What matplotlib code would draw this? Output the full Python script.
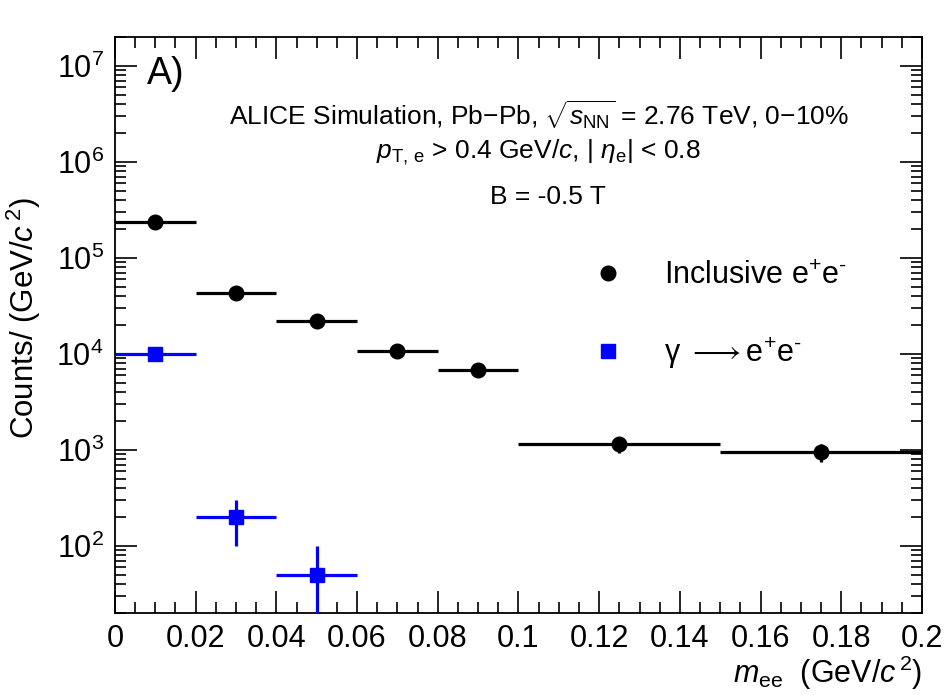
"""
plot.py
Dielectron invariant mass spectrum (inclusive vs. photon conversions), ROOT style.
"""

import math
import matplotlib
matplotlib.use("Agg")
import matplotlib.pyplot as plt
from matplotlib.ticker import MultipleLocator, LogLocator, FuncFormatter, NullFormatter

plt.rcParams["font.family"] = ["Liberation Sans", "DejaVu Sans"]
plt.rcParams["mathtext.fontset"] = "custom"
plt.rcParams["mathtext.rm"] = "Liberation Sans"
plt.rcParams["mathtext.it"] = "Liberation Sans:italic"
plt.rcParams["mathtext.bf"] = "Liberation Sans:bold"

# inclusive e+e-
incl_x = [0.01, 0.03, 0.05, 0.07, 0.09, 0.125, 0.175]
incl_xerr = [0.01, 0.01, 0.01, 0.01, 0.01, 0.025, 0.025]
incl_y = [2.37e5, 4.35e4, 2.22e4, 1.06e4, 6.8e3, 1.15e3, 955]
incl_yerr = [1.0e3, 4.0e2, 3.0e2, 2.0e2, 1.5e2, 220, 200]

# gamma -> e+e-
conv_x = [0.01, 0.03, 0.05]
conv_xerr = [0.01, 0.01, 0.01]
conv_y = [1.0e4, 200, 50]
conv_yerr = [100, 100, 49.9]

x_ticks = [0, 0.02, 0.04, 0.06, 0.08, 0.1, 0.12, 0.14, 0.16, 0.18, 0.2]


def main():
    fig = plt.figure(figsize=(9.5, 6.95), dpi=100)
    ax = fig.add_axes([0.121, 0.118, 0.8495, 0.829])

    ax.errorbar(incl_x, incl_y, xerr=incl_xerr, yerr=incl_yerr, fmt="o",
                color="black", ms=10.5, elinewidth=2.3, capsize=0, zorder=3)
    ax.errorbar(conv_x, conv_y, xerr=conv_xerr, yerr=conv_yerr, fmt="s",
                color="#0000ff", ms=10, elinewidth=2.3, capsize=0, zorder=3)

    ax.set_yscale("log")
    ax.set_xlim(0, 0.2)
    ax.set_ylim(20, 2e7)

    ax.set_xticks(x_ticks)
    ax.xaxis.set_major_formatter(FuncFormatter(lambda v, p: "%g" % round(v, 3)))
    ax.xaxis.set_minor_locator(MultipleLocator(0.005))
    ax.yaxis.set_major_locator(LogLocator(base=10, numticks=20))
    ax.yaxis.set_minor_locator(LogLocator(base=10, subs=range(2, 10), numticks=20))
    ax.yaxis.set_minor_formatter(NullFormatter())
    ax.yaxis.set_major_formatter(
        FuncFormatter(lambda v, p: r"$10^{\mathregular{%d}}$" % round(math.log10(v))))

    ax.tick_params(which="both", direction="in", top=True, right=True,
                   labelsize=22, width=1.2, color="black")
    ax.tick_params(which="major", length=16, pad=8)
    ax.tick_params(which="minor", length=8)
    for s in ax.spines.values():
        s.set_linewidth(1.3)

    ax.set_xlabel(r"$m_{\rm ee}$  (GeV/$c^{\,2}$)", fontsize=22, loc="right", labelpad=0)
    ax.set_ylabel(r"Counts/ (GeV/$c^{\,2}$)", fontsize=22.5, loc="top")
    ax.yaxis.set_label_coords(-0.113, 0.722)
    ax.yaxis.label.set_va("center")

    ax.text(0.04, 0.935, "A)", transform=ax.transAxes, fontsize=27, va="center")
    ax.text(0.525, 0.863, r"ALICE Simulation, Pb$-$Pb, $\sqrt{s_{\rm NN}}$ = 2.76 TeV, 0$-$10%",
            transform=ax.transAxes, fontsize=19, ha="center", va="center")
    ax.text(0.525, 0.800, r"$p_{\rm T,\,e}$ > 0.4 GeV/$c$, | $\eta_{\rm e}$| < 0.8",
            transform=ax.transAxes, fontsize=19, ha="center", va="center")
    ax.text(0.536, 0.722, "B = -0.5 T", transform=ax.transAxes, fontsize=19,
            ha="center", va="center")

    h1, = ax.plot([], [], "o", color="black", ms=10.5)
    h2, = ax.plot([], [], "s", color="#0000ff", ms=10)
    ax.legend([h1, h2], [r"Inclusive e$^{+}$e$^{\text{-}}$",
                         r"γ $\longrightarrow$e$^{+}$e$^{\text{-}}$"],
              loc="upper left", bbox_to_anchor=(0.5725, 0.611), frameon=False,
              fontsize=22, handlelength=2.0, handletextpad=0.85, labelspacing=1.45,
              borderpad=0, borderaxespad=0)

    fig.savefig("out.png", dpi=100)


if __name__ == "__main__":
    main()
